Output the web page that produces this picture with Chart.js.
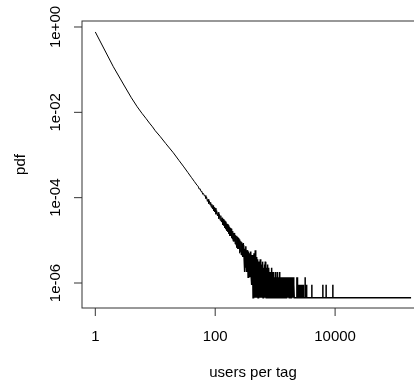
<!DOCTYPE html>
<html><head><meta charset="utf-8">
<script src="https://cdn.jsdelivr.net/npm/chart.js@4/dist/chart.umd.min.js"></script>
<style>
html,body{margin:0;padding:0;background:#fff;width:414px;height:385px;overflow:hidden;}
#wrap{position:relative;width:440px;height:385px;}
</style></head><body>
<div id="wrap"><canvas id="c"></canvas></div>
<script>
const usersPerTag = [
 1,2,3,4,5,6,7,8,9,10,12,15,20,25,30,35,40,45,50,
 52,54,56,58,60,62,64,66,68,70,
 72,74,76,78,80,82,84,86,88,90,92,94,96,98,100,
 103,106,109,112,115,118,121,124,127,130,133,136,139,142,145,148,151,154,157,160,163,
 166,169,172,175,178,181,184,187,190,193,196,199,
 203,207,211,215,219,223,227,231,235,239,243,247,251,255,259,263,267,271,275,279,283,287,291,295,299,
 303,307,310,314,318,322,326,329,333,337,
 341,345,350,354,358,362,367,371,376,380,
 385,389,394,399,404,408,413,418,423,428,
 434,439,444,449,455,460,466,471,477,483,
 489,495,501,507,513,519,525,532,538,545,
 551,558,565,571,578,585,592,599,607,614,
 621,629,636,644,652,660,668,676,684,692,
 700,709,717,726,735,744,753,762,771,780,
 789,799,809,818,828,838,848,858,869,879,
 890,900,911,922,933,945,956,967,979,991,
 1003,1015,1027,1039,1052,1064,1077,1090,1103,1117,
 1130,1144,1157,1171,1185,1200,1214,1229,1244,1259,
 1274,1289,1305,1320,1336,1352,1369,1385,1402,1419,
 1436,1453,1470,1488,1506,1524,1542,1561,1580,1599,
 1618,1637,1657,1677,1697,1718,1738,1759,1780,1802,
 1823,1845,1867,1890,1913,1936,1959,1982,2006,2030,
 2055,2080,
 2290,2300,2310,2345,2355,2365,2410,2417,2424,2495,2505,2515,
 2600,2610,2620,2715,2725,2735,2810,2818,2826,2945,2955,2965,
 3150,3162,3174,3340,3350,3360,4080,4090,4100,
 6220,6240,6260,7060,7080,7100,9130,9160,9190,185000
];
const pdf = [
 0.764,0.117,0.0437,0.0219,0.0135,0.0095,0.0072,0.0056,0.00457,0.0037,0.00275,0.00185,0.00113,7.4e-4,5.26e-4,3.89e-4,2.99e-4,2.38e-4,1.94e-4,
 1.85e-4,1.59e-4,1.62e-4,1.40e-4,1.38e-4,1.20e-4,1.25e-4,1.10e-4,1.12e-4,9.55e-5,
 1.03e-4,8.18e-5,9.19e-5,7.25e-5,8.43e-5,6.71e-5,7.78e-5,5.97e-5,7.00e-5,5.49e-5,6.53e-5,4.90e-5,5.90e-5,4.62e-5,5.66e-5,
 4.09e-5,4.97e-5,3.74e-5,4.53e-5,3.22e-5,4.05e-5,2.94e-5,3.79e-5,2.68e-5,3.37e-5,2.32e-5,3.16e-5,2.23e-5,2.90e-5,1.96e-5,2.74e-5,1.83e-5,2.45e-5,1.67e-5,2.41e-5,1.58e-5,
 2.22e-5,1.43e-5,2.02e-5,1.28e-5,1.94e-5,1.27e-5,1.87e-5,1.13e-5,1.70e-5,1.07e-5,1.65e-5,9.51e-6,
 1.49e-5,9.51e-6,1.49e-5,8.15e-6,1.31e-5,8.15e-6,1.27e-5,6.80e-6,1.18e-5,6.34e-6,1.13e-5,6.34e-6,1.04e-5,4.98e-6,9.97e-6,5.44e-6,9.51e-6,4.53e-6,9.06e-6,4.53e-6,8.15e-6,4.08e-6,8.61e-6,4.08e-6,7.70e-6,
 4.08e-6,1.81e-6,6.34e-6,2.72e-6,4.98e-6,2.27e-6,7.25e-6,3.17e-6,4.53e-6,1.81e-6,
 5.89e-6,2.72e-6,4.08e-6,1.36e-6,5.44e-6,2.27e-6,3.62e-6,1.81e-6,4.98e-6,1.36e-6,
 4.08e-6,2.27e-6,5.44e-6,1.36e-6,3.17e-6,9.06e-7,4.53e-6,1.81e-6,3.62e-6,4.53e-7,
 2.72e-6,9.06e-7,4.98e-6,4.53e-7,3.17e-6,1.36e-6,5.89e-6,4.53e-7,2.27e-6,9.06e-7,
 4.08e-6,4.53e-7,2.72e-6,9.06e-7,3.62e-6,4.53e-7,2.27e-6,4.53e-7,3.17e-6,9.06e-7,
 1.81e-6,4.53e-7,3.62e-6,4.53e-7,2.27e-6,9.06e-7,2.72e-6,4.53e-7,1.81e-6,4.53e-7,
 3.17e-6,4.53e-7,1.36e-6,4.53e-7,2.27e-6,9.06e-7,2.72e-6,4.53e-7,3.17e-6,4.53e-7,
 1.81e-6,4.53e-7,2.27e-6,4.53e-7,1.36e-6,4.53e-7,2.72e-6,4.53e-7,1.81e-6,9.06e-7,
 2.27e-6,4.53e-7,1.36e-6,4.53e-7,1.81e-6,4.53e-7,9.06e-7,4.53e-7,2.27e-6,4.53e-7,
 1.36e-6,4.53e-7,1.81e-6,4.53e-7,9.06e-7,4.53e-7,1.81e-6,4.53e-7,1.36e-6,4.53e-7,
 9.06e-7,4.53e-7,1.81e-6,4.53e-7,9.06e-7,4.53e-7,1.36e-6,4.53e-7,1.81e-6,4.53e-7,
 9.06e-7,4.53e-7,1.36e-6,4.53e-7,1.81e-6,4.53e-7,9.06e-7,4.53e-7,1.36e-6,4.53e-7,
 9.06e-7,4.53e-7,1.36e-6,4.53e-7,9.06e-7,4.53e-7,1.36e-6,4.53e-7,9.06e-7,4.53e-7,
 1.36e-6,4.53e-7,9.06e-7,4.53e-7,1.36e-6,4.53e-7,9.06e-7,4.53e-7,1.36e-6,4.53e-7,
 9.06e-7,4.53e-7,1.36e-6,4.53e-7,9.06e-7,4.53e-7,1.36e-6,4.53e-7,9.06e-7,4.53e-7,
 1.36e-6,4.53e-7,9.06e-7,4.53e-7,1.36e-6,4.53e-7,9.06e-7,4.53e-7,1.36e-6,4.53e-7,
 9.06e-7,4.53e-7,
 4.53e-7,1.36e-6,4.53e-7,4.53e-7,1.36e-6,4.53e-7,4.53e-7,9.06e-7,4.53e-7,4.53e-7,9.06e-7,4.53e-7,
 4.53e-7,9.06e-7,4.53e-7,4.53e-7,9.06e-7,4.53e-7,4.53e-7,9.06e-7,4.53e-7,4.53e-7,9.06e-7,4.53e-7,
 4.53e-7,1.36e-6,4.53e-7,4.53e-7,9.06e-7,4.53e-7,4.53e-7,9.06e-7,4.53e-7,
 4.53e-7,9.06e-7,4.53e-7,4.53e-7,9.06e-7,4.53e-7,4.53e-7,9.06e-7,4.53e-7,4.53e-7
];
const xTickValues = [1, 100, 10000];
const xTickLabels = ['1', '100', '10000'];
const yTickValues = [1, 1e-2, 1e-4, 1e-6];
const yTickLabels = ['1e+00', '1e-02', '1e-04', '1e-06'];
const xTitle = 'users per tag';
const yTitle = 'pdf';
const noisyFrom = 299; // the sparse, noisy tail is drawn with a slightly heavier stroke

if (usersPerTag.length !== pdf.length) throw new Error('length mismatch ' + usersPerTag.length + ' vs ' + pdf.length);

const points = usersPerTag.map((u, i) => ({x: u, y: pdf[i]}));
const FONT = '15px "Liberation Sans", Arial, Helvetica, sans-serif';

const rAxes = {
  id: 'rAxes',
  afterDraw(chart) {
    const {ctx, chartArea: a, scales: {x, y}} = chart;
    ctx.save();
    ctx.strokeStyle = '#333';
    ctx.lineWidth = 1;
    ctx.strokeRect(a.left, a.top, a.right - a.left, a.bottom - a.top);
    ctx.beginPath();
    xTickValues.forEach(v => { const p = x.getPixelForValue(v); ctx.moveTo(p, a.bottom); ctx.lineTo(p, a.bottom + 8); });
    yTickValues.forEach(v => { const p = y.getPixelForValue(v); ctx.moveTo(a.left, p); ctx.lineTo(a.left - 8, p); });
    ctx.stroke();
    ctx.fillStyle = '#000';
    ctx.font = FONT;
    ctx.textAlign = 'center';
    ctx.textBaseline = 'middle';
    xTickValues.forEach((v, i) => ctx.fillText(xTickLabels[i], x.getPixelForValue(v), a.bottom + 29));
    ctx.fillText(xTitle, (a.left + a.right) / 2, a.bottom + 65);
    yTickValues.forEach((v, i) => {
      ctx.save(); ctx.translate(a.left - 26, y.getPixelForValue(v)); ctx.rotate(-Math.PI / 2);
      ctx.fillText(yTickLabels[i], 0, 0); ctx.restore();
    });
    ctx.save(); ctx.translate(a.left - 61, (a.top + a.bottom) / 2); ctx.rotate(-Math.PI / 2);
    ctx.fillText(yTitle, 0, 0); ctx.restore();
    ctx.restore();
  }
};

new Chart(document.getElementById('c'), {
  type: 'line',
  data: {
    datasets: [{
      data: points.filter(p => p.x <= noisyFrom),
      borderColor: '#000', borderWidth: 1, pointRadius: 0, tension: 0, fill: false
    }, {
      data: points.filter(p => p.x >= noisyFrom),
      borderColor: '#000', borderWidth: 1.5, pointRadius: 0, tension: 0, fill: false
    }]
  },
  options: {
    responsive: true,
    maintainAspectRatio: false,
    animation: false,
    layout: {padding: {left: 82, top: 21, right: 16, bottom: 77}},
    plugins: {legend: {display: false}, tooltip: {enabled: false}},
    scales: {
      x: {type: 'logarithmic', min: 0.607, max: 304000, display: false},
      y: {type: 'logarithmic', min: 2.596e-7, max: 1.382, display: false}
    }
  },
  plugins: [rAxes]
});
</script>
</body></html>
